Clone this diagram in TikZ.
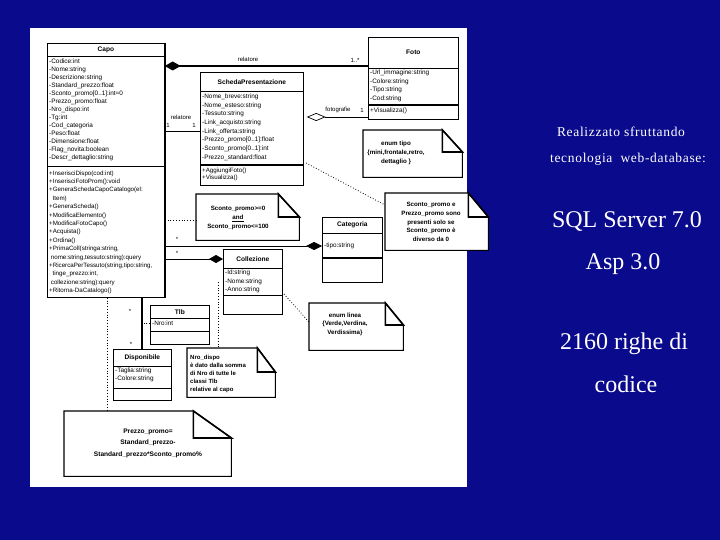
\documentclass[tikz,border=0pt]{standalone}
\usepackage{fontspec}
\setmainfont{Liberation Serif}
\newfontfamily\umlf{Liberation Sans}
\newfontfamily\spaced[LetterSpace=5]{Liberation Serif}
\usetikzlibrary{calc,arrows.meta}
\definecolor{bgblue}{RGB}{10,10,140}
\tikzset{
 cls/.style={draw, fill=white, line width=0.7pt, inner sep=0pt, anchor=north west},
 notebox/.style={inner sep=0pt, anchor=north west},
 noteline/.style={draw, fill=white, line width=1.1pt},
 foldline/.style={draw, line width=1.6pt},
 ttl/.style={font=\umlf\fontsize{6.6}{7}\selectfont\bfseries, inner sep=0pt},
 attr/.style={font=\umlf\fontsize{6.4}{8.0}\selectfont, align=left, anchor=north west, inner sep=0pt},
 ntext/.style={font=\umlf\fontsize{6.2}{8.6}\selectfont\bfseries, align=center, inner sep=0pt},
 lbl/.style={font=\umlf\fontsize{6.0}{7}\selectfont, inner sep=0pt},
 assoc/.style={line width=0.7pt},
 dep/.style={dotted, line width=0.8pt},
 rtbig/.style={text=white, font=\fontsize{24}{28}\selectfont, inner sep=0pt},
 rtsmall/.style={text=white, font=\spaced\fontsize{13.5}{16}\selectfont, inner sep=0pt},
}
\newcommand\clsep[3]{\draw[line width=#3] ($(#1.north west)+(0,#2)$) -- ($(#1.north east)+(0,#2)$);}
\newcommand\umlnote[3]{%
 \draw[noteline] (#1.north west) -- ($(#1.north east)+(-#2,0)$) -- ($(#1.north east)+(0,#3)$) -- (#1.south east) -- (#1.south west) -- cycle;
 \draw[foldline] ($(#1.north east)+(-#2,0)$) -- ($(#1.north east)+(-#2,#3)$) -- ($(#1.north east)+(0,#3)$) -- cycle;}
\begin{document}
\begin{tikzpicture}[x=1pt,y=-1pt]
\fill[bgblue] (0,0) rectangle (720,540);
\useasboundingbox (0,0) rectangle (720,540);
\fill[white] (30,28) rectangle (467,487);

% ---------- Capo
\node[cls, minimum width=117pt, minimum height=254pt] (capo) at (47,43) {};
\clsep{capo}{13}{0.7pt}
\clsep{capo}{123}{0.7pt}
\draw[line width=1.6pt] (capo.north east) -- (capo.south east);
\node[ttl] (capoT) at ($(capo.north)+(0,7)$) {Capo};
\node[attr] (capoA) at (49,58.5) {-Codice:int\\-Nome:string\\-Descrizione:string\\-Standard\_prezzo:float\\-Sconto\_promo[0..1]:int=0\\-Prezzo\_promo:float\\-Nro\_dispo:int\\-Tg:int\\-Cod\_categoria\\-Peso:float\\-Dimensione:float\\-Flag\_novita:boolean\\-Descr\_dettaglio:string};
\node[attr, font=\umlf\fontsize{6.2}{8.4}\selectfont] (capoM) at (49,170.5) {+InserisciDispo(cod:int)\\+InserisciFotoProm():void\\+GeneraSchedaCapoCatalogo(el:\\\ \ Item)\\+GeneraScheda()\\+ModificaElemento()\\+ModificaFotoCapo()\\+Acquista()\\+Ordina()\\+PrimaColl(stringa:string,\\\ nome:string,tessuto:string):query\\+RicercaPerTessuto(string,tipo:string,\\\ \ tinge\_prezzo:int,\\\ collezione:string):query\\+Ritorna-DaCatalogo()};

% ---------- Foto
\node[cls, minimum width=90pt, minimum height=82pt] (foto) at (368,37) {};
\clsep{foto}{31}{0.7pt}
\clsep{foto}{68}{1.5pt}
\node[ttl] (fotoT) at ($(foto.north)+(0,15)$) {Foto};
\node[attr, font=\umlf\fontsize{6.4}{8.7}\selectfont] (fotoA) at (370,69.5) {-Url\_immagine:string\\-Colore:string\\-Tipo:string\\-Cod:string};
\node[attr] (fotoM) at (370,107.5) {+Visualizza()};

% ---------- SchedaPresentazione
\node[cls, minimum width=103pt, minimum height=113pt] (scheda) at (200,72) {};
\clsep{scheda}{19}{0.7pt}
\clsep{scheda}{93}{1.5pt}
\node[ttl] (schedaT) at ($(scheda.north)+(0,10)$) {SchedaPresentazione};
\node[attr, font=\umlf\fontsize{6.4}{8.7}\selectfont] (schedaA) at (202,93.5) {-Nome\_breve:string\\-Nome\_esteso:string\\-Tessuto:string\\-Link\_acquisto:string\\-Link\_offerta:string\\-Prezzo\_promo[0..1]:float\\-Sconto\_promo[0..1]:int\\-Prezzo\_standard:float};
\node[attr, font=\umlf\fontsize{6.2}{6.8}\selectfont] (schedaM) at (202,168) {+AggiungiFoto()\\+Visualizza()};

% ---------- Categoria
\node[cls, minimum width=60pt, minimum height=65pt] (categoria) at (322,217) {};
\clsep{categoria}{16}{0.7pt}
\clsep{categoria}{41}{1.5pt}
\node[ttl] (categoriaT) at ($(categoria.north)+(0,8)$) {Categoria};
\node[attr] (categoriaA) at (324,242.5) {-tipo:string};

% ---------- Collezione
\node[cls, minimum width=59pt, minimum height=65pt] (collezione) at (223,249) {};
\clsep{collezione}{19}{0.7pt}
\clsep{collezione}{46}{0.7pt}
\node[ttl] (collezioneT) at ($(collezione.north)+(0,10)$) {Collezione};
\node[attr, font=\umlf\fontsize{6.4}{8.8}\selectfont] (collezioneA) at (225,269.5) {-Id:string\\-Nome:string\\-Anno:string};

% ---------- Tlb
\node[cls, minimum width=59pt, minimum height=39pt] (tlb) at (150,305) {};
\clsep{tlb}{13}{0.7pt}
\clsep{tlb}{26}{0.7pt}
\node[ttl] (tlbT) at ($(tlb.north)+(0,7)$) {Tlb};
\node[attr] (tlbA) at (152,321) {-Nro:int};

% ---------- Disponibile
\node[cls, minimum width=58pt, minimum height=51pt] (dispo) at (113,349) {};
\clsep{dispo}{17}{0.7pt}
\clsep{dispo}{39}{0.7pt}
\node[ttl] (dispoT) at ($(dispo.north)+(0,9)$) {Disponibile};
\node[attr] (dispoA) at (115,367.5) {-Taglia:string\\-Colore:string};

% ---------- connectors
\coordinate (relY) at (0,66);
\draw[line width=2.2pt, {Diamond[length=16pt,width=9pt]}-] (capo.east |- relY) -- (foto.west |- relY);
\node[lbl] (lrel1) at (248,59) {relatore};
\node[lbl] (lmul1) at (355,60) {1..*};

\coordinate (rel2Y) at (0,131);
\draw[assoc] (capo.east |- rel2Y) -- (scheda.west |- rel2Y);
\node[lbl] (lrel2) at (181,117) {relatore};
\node[lbl] (lmul2) at (168,125) {1};
\node[lbl] (lmul3) at (194,125) {1};

\coordinate (fotY) at (0,117);
\draw[assoc, {Diamond[open,length=19pt,width=8pt]}-] ($(scheda.east |- fotY)+(3,0)$) -- (foto.west |- fotY);
\node[lbl] (lfot) at (338,110) {fotografie};
\node[lbl] (lmul4) at (362,110) {1};

\coordinate (catY) at (0,246);
\draw[assoc, -{Diamond[length=16pt,width=8pt]}] (capo.east |- catY) -- (categoria.west |- catY);
\node[lbl] (lmul5) at (177,239) {*};

\coordinate (colY) at (0,259);
\draw[assoc, -{Diamond[length=14pt,width=8pt]}] (capo.east |- colY) -- (collezione.west |- colY);
\node[lbl] (lmul6) at (177,253) {*};

\draw[line width=2.2pt] (capo.south -| dispo.north) -- (dispo.north);
\node[lbl] (lmul7) at (130,311) {*};
\node[lbl] (lmul8) at (131,344) {*};
\coordinate (tlbY) at (0,323);
\draw[dep] (tlb.west |- tlbY) -- (dispo.north |- tlbY);

% ---------- notes
\node[notebox, minimum width=99pt, minimum height=47pt] (enumtipo) at (363,130) {};
\umlnote{enumtipo}{20}{22}
\node[ntext] (enumtipoT) at (396,153) {enum tipo\\\{mini,frontale,retro,\\dettaglio \}};

\node[notebox, minimum width=103pt, minimum height=46pt] (sconto1) at (196,194) {};
\umlnote{sconto1}{21}{23}
\node[ntext] (sconto1T) at (238,218) {Sconto\_promo>=0\\\underline{and}\\Sconto\_promo<=100};

\node[notebox, minimum width=103pt, minimum height=57pt] (sconto2) at (385,193) {};
\umlnote{sconto2}{20}{24}
\node[ntext] (sconto2T) at (431,222) {Sconto\_promo e\\Prezzo\_promo sono\\presenti solo se\\Sconto\_promo è\\diverso da 0};

\node[notebox, minimum width=94pt, minimum height=47pt] (enumlinea) at (309,303) {};
\umlnote{enumlinea}{18}{22}
\node[ntext] (enumlineaT) at (345,324) {enum linea\\\{Verde,Verdina,\\Verdissima\}};

\node[notebox, minimum width=88pt, minimum height=49pt] (nro) at (187,348) {};
\umlnote{nro}{18}{24}
\node[ntext, align=left, anchor=north west, font=\umlf\fontsize{6.0}{8.0}\selectfont\bfseries] (nroT) at (190,355) {Nro\_dispo\\è dato dalla somma\\di Nro di tutte le\\classi Tlb\\relative al capo};

\node[notebox, minimum width=167pt, minimum height=65pt] (prezzo) at (64,411) {};
\umlnote{prezzo}{38}{27}
\node[ntext, font=\umlf\fontsize{6.6}{11.5}\selectfont\bfseries] (prezzoT) at (148,443) {Prezzo\_promo=\\Standard\_prezzo-\\Standard\_prezzo*Sconto\_promo\%};

% ---------- dependencies
\coordinate (prX) at (107,0);
\draw[dep] (capo.south -| prX) -- (prezzo.north -| prX);
\coordinate (s1Y) at (0,220);
\draw[dep] (capo.east |- s1Y) -- (sconto1.west |- s1Y);
\coordinate (schDot) at (306,163);
\coordinate (s2Y) at (0,205);
\draw[dep] (schDot) -- (sconto2.west |- s2Y);
\coordinate (colDot) at (284,294);
\coordinate (elY) at (0,322);
\draw[dep] (colDot) -- (enumlinea.west |- elY);
\coordinate (nroDot) at (218,282);
\draw[dep] (nroDot) -- (nro.north -| nroDot);

% ---------- right text
\node[rtsmall] (r1) at (621,132) {Realizzato sfruttando};
\node[rtsmall] (r2) at (628,159) {tecnologia\ \ web-database:};
\node[rtbig] (r3) at (627,221) {SQL Server 7.0};
\node[rtbig] (r4) at (623,264) {Asp 3.0};
\node[rtbig] (r5) at (624,344) {2160 righe di};
\node[rtbig] (r6) at (626,384) {codice};
\end{tikzpicture}
\end{document}
